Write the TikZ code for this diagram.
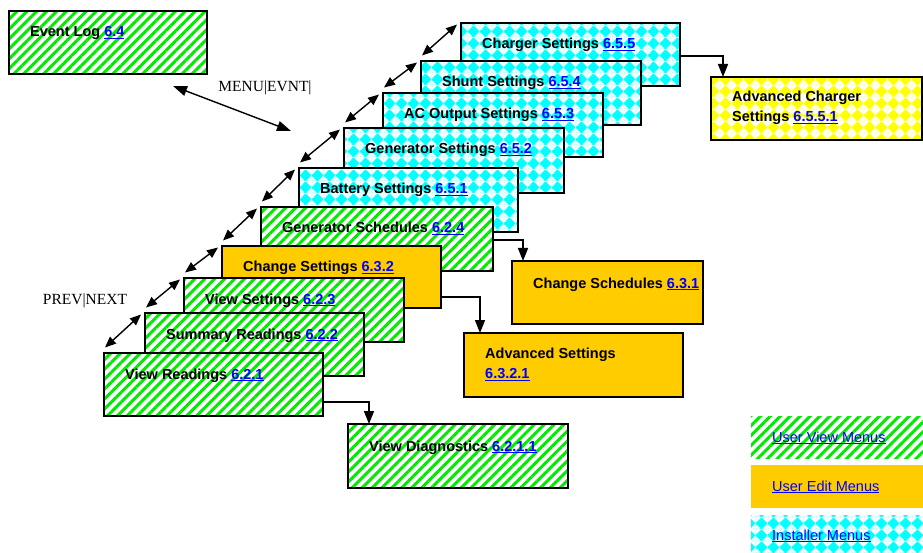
\documentclass[tikz,border=0pt]{standalone}
\usepackage{fontspec}
\setmainfont{Liberation Sans}
\newfontfamily\serifface{Liberation Serif}
\usetikzlibrary{patterns.meta,arrows.meta}
\definecolor{lgreen}{RGB}{0,235,0}
\definecolor{lcyan}{RGB}{0,255,255}
\definecolor{lyellow}{RGB}{255,255,0}
\definecolor{lgold}{RGB}{255,204,0}
\definecolor{linkblue}{RGB}{0,0,255}
\newcommand\lnk[1]{\textcolor{linkblue}{\setbox0\hbox{#1}\rlap{\rule[-2.4pt]{\wd0}{1.5pt}}\box0}}
\newcommand\lnkthin[1]{\textcolor{linkblue}{\setbox0\hbox{#1}\rlap{\rule[-2.2pt]{\wd0}{1.1pt}}\box0}}
\tikzdeclarepattern{
  name=Diamonds,
  type=uncolored,
  bounding box={(0pt,0pt) and (12pt,12pt)},
  tile size={(12pt,12pt)},
  code={\fill[even odd rule] (0pt,0pt) rectangle (12pt,12pt)
     (0pt,0pt) -- (5.6pt,0pt) -- (0pt,5.6pt) -- cycle
     (12pt,0pt) -- (6.4pt,0pt) -- (12pt,5.6pt) -- cycle
     (0pt,12pt) -- (5.6pt,12pt) -- (0pt,6.4pt) -- cycle
     (12pt,12pt) -- (6.4pt,12pt) -- (12pt,6.4pt) -- cycle;}
}
\begin{document}
\begin{tikzpicture}[x=1pt,y=-1pt,
  box/.style={draw=black, line width=1.6pt, anchor=north west, inner sep=0pt, outer sep=0pt},
  viewbox/.style={box, preaction={fill=white}, pattern={Lines[angle=45,distance=7pt,line width=3pt]}, pattern color=lgreen},
  editbox/.style={box, fill=lgold},
  instbox/.style={box, preaction={fill=white}, pattern=Diamonds, pattern color=lcyan},
  advbox/.style={box, preaction={fill=white}, pattern=Diamonds, pattern color=lyellow},
  lab/.style={anchor=base west, inner sep=0pt, font=\bfseries\fontsize{14.5}{20.5}\selectfont},
  lab2/.style={anchor=north west, inner sep=0pt, align=left, font=\bfseries\fontsize{14.5}{20.5}\selectfont},
  leg/.style={anchor=base west, inner sep=0pt, font=\fontsize{14.5}{17}\selectfont},
  keylab/.style={inner sep=0pt, font=\serifface\fontsize{15.5}{18}\selectfont},
  dbl/.style={{Triangle[length=11pt,width=9pt]}-{Triangle[length=11pt,width=9pt]}, line width=1.4pt},
  conn/.style={-{Triangle[length=13pt,width=10pt]}, line width=1.6pt}
]
\useasboundingbox (0,0) rectangle (923,553);

% Event log
\node[viewbox, minimum width=198pt, minimum height=63pt] (ev) at (9,11) {};
\node[lab] (evt) at (30,37) {Event Log \lnk{6.4}};

% Installer stack (back to front)
\node[instbox, minimum width=219pt, minimum height=63pt] (ch) at (461,23) {};
\node[lab] (cht) at (482,49) {Charger Settings \lnk{6.5.5}};
\node[instbox, minimum width=220pt, minimum height=64pt] (sh) at (421,61) {};
\node[lab] (sht) at (442,87) {Shunt Settings \lnk{6.5.4}};
\node[instbox, minimum width=220pt, minimum height=64pt] (ac) at (383,93) {};
\node[lab] (act) at (404,119) {AC Output Settings \lnk{6.5.3}};
\node[instbox, minimum width=220pt, minimum height=65pt] (gens) at (344,128) {};
\node[lab] (genst) at (365,154) {Generator Settings \lnk{6.5.2}};
\node[instbox, minimum width=219pt, minimum height=64pt] (bs) at (299,168) {};
\node[lab] (bst) at (320,194) {Battery Settings \lnk{6.5.1}};

% User stack
\node[viewbox, minimum width=232pt, minimum height=64pt] (gs) at (261,207) {};
\node[lab] (gst) at (282,233) {Generator Schedules \lnk{6.2.4}};
\node[editbox, minimum width=219pt, minimum height=62pt] (cs) at (222,246) {};
\node[lab] (cst) at (243,272) {Change Settings \lnk{6.3.2}};
\node[viewbox, minimum width=220pt, minimum height=64pt] (vs) at (184,278) {};
\node[lab] (vst) at (205,304) {View Settings \lnk{6.2.3}};
\node[viewbox, minimum width=219pt, minimum height=63pt] (sr) at (145,313) {};
\node[lab] (srt) at (166,339) {Summary Readings \lnk{6.2.2}};
\node[viewbox, minimum width=219pt, minimum height=63pt] (vr) at (104,353) {};
\node[lab] (vrt) at (125,379) {View Readings \lnk{6.2.1}};

% Sub menus
\node[advbox, minimum width=211pt, minimum height=63pt] (acs) at (711,77) {};
\node[lab2] (acst) at (732,90.5) {Advanced Charger\\Settings \lnk{6.5.5.1}};
\node[editbox, minimum width=191pt, minimum height=63pt] (chs) at (512,261) {};
\node[lab] (chst) at (533,288) {Change Schedules \lnk{6.3.1}};
\node[editbox, minimum width=219pt, minimum height=64pt] (ads) at (464,333) {};
\node[lab2] (adst) at (485,347.5) {Advanced Settings\\\lnk{6.3.2.1}};
\node[viewbox, minimum width=220pt, minimum height=64pt] (vd) at (348,424) {};
\node[lab] (vdt) at (369,451) {View Diagnostics \lnk{6.2.1.1}};

% Legend
\node[viewbox, draw=none, minimum width=172pt, minimum height=42pt] (lv) at (751,416) {};
\node[leg] (lvt) at (772,442) {\lnkthin{User View Menus}};
\node[editbox, draw=none, minimum width=172pt, minimum height=43pt] (le) at (751,465) {};
\node[leg] (let) at (772,491) {\lnkthin{User Edit Menus}};
\node[instbox, draw=none, minimum width=172pt, minimum height=38pt] (li) at (751,515) {};
\node[leg] (lit) at (772,540) {\lnkthin{Installer Menus}};

% Key labels
\node[keylab] (menu) at (265,88) {MENU|EVNT|};
\node[keylab] (prev) at (85,301) {PREV|NEXT};
\coordinate (m1) at (173,86);
\coordinate (m2) at (291,131);
\draw[dbl, {Triangle[length=14pt,width=10pt]}-{Triangle[length=14pt,width=10pt]}] (m1) -- (m2);

% PREV|NEXT arrows
\foreach \a/\b in {vr/sr, sr/vs, vs/cs, cs/gs, gs/bs, bs/gens, gens/ac, ac/sh, sh/ch}{
  \draw[dbl] ([shift={(1pt,5.5pt)}]\a.north west) -- ([shift={(-4pt,-1.5pt)}]\b.north west);
}

% Connectors
\draw[conn] ([yshift=-1.5pt]ch.east) -| ([xshift=12pt]acs.north west);
\draw[conn] ([yshift=-1pt]gs.east) -| ([xshift=11pt]chs.north west);
\draw[conn] ([yshift=-20pt]cs.east) -| ([xshift=16pt]ads.north west);
\draw[conn] ([yshift=-17.5pt]vr.east) -| ([xshift=21pt]vd.north west);
\end{tikzpicture}
\end{document}
